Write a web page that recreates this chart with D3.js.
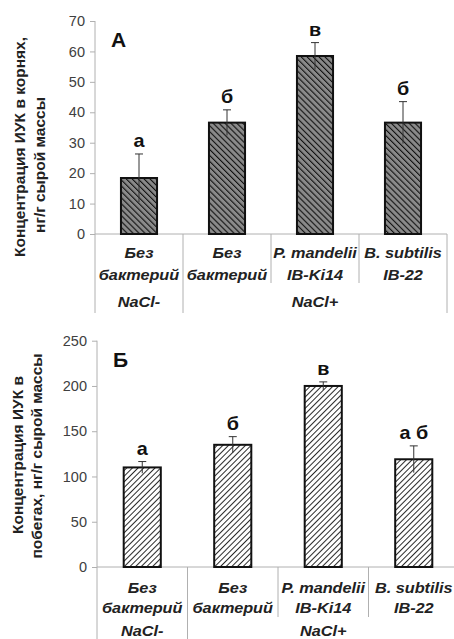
<!DOCTYPE html>
<html>
<head>
<meta charset="utf-8">
<script src="https://cdn.jsdelivr.net/npm/d3@7"></script>
<style>
  body { margin: 0; background: #fff; }
  text { font-family: "Liberation Sans", Arial, sans-serif; }
</style>
</head>
<body>
<div id="chart"></div>
<script>
// categories (two lines each) and groups
const categories = ["c1", "c2", "c3", "c4"];
const catLine1 = ["Без", "Без", "P. mandelii", "B. subtilis"];
const catLine2 = ["бактерий", "бактерий", "IB-Ki14", "IB-22"];
const groups = [{name: "NaCl-", from: 0, to: 0}, {name: "NaCl+", from: 1, to: 3}];

// panel A: roots
const rootMeans = [18.4, 36.6, 58.5, 36.6];
const rootErrs = [7.9, 4.2, 4.4, 6.9];
const rootLetters = ["а", "б", "в", "б"];
const rootTicks = [0, 10, 20, 30, 40, 50, 60, 70];

// panel Б: shoots
const shootMeans = [110, 135, 200, 119];
const shootErrs = [6.5, 9, 4.5, 14.8];
const shootLetters = ["а", "б", "в", "а б"];
const shootTicks = [0, 50, 100, 150, 200, 250];

const svg = d3.select("#chart").append("svg")
    .attr("width", 454)
    .attr("height", 639);

const defs = svg.append("defs");

// dark hatching for panel A
const pA = defs.append("pattern")
    .attr("id", "hatchA")
    .attr("patternUnits", "userSpaceOnUse")
    .attr("width", 4.2).attr("height", 4.2)
    .attr("patternTransform", "rotate(-45)");
pA.append("rect").attr("width", 4.2).attr("height", 4.2).attr("fill", "#8a8a8a");
pA.append("line").attr("x1", 0).attr("y1", 0).attr("x2", 0).attr("y2", 4.2)
    .attr("stroke", "#111").attr("stroke-width", 2.2);

// light hatching for panel Б
const pB = defs.append("pattern")
    .attr("id", "hatchB")
    .attr("patternUnits", "userSpaceOnUse")
    .attr("width", 4).attr("height", 4)
    .attr("patternTransform", "rotate(45)");
pB.append("rect").attr("width", 4).attr("height", 4).attr("fill", "#fff");
pB.append("line").attr("x1", 0).attr("y1", 0).attr("x2", 0).attr("y2", 4)
    .attr("stroke", "#111").attr("stroke-width", 1.8);

// text is a bit wider than normal in the original
const stretch = 1.05;

function drawPanel(opt) {
    const g = svg.append("g");

    const y = d3.scaleLinear().domain(opt.domain).range([opt.y0, opt.y1]);
    const xCat = d3.scaleBand().domain(categories).range([opt.x0, opt.x1]);
    const x = d3.scaleBand().domain(categories).range([opt.x0, opt.x1])
        .paddingInner(0.59).paddingOuter(0.295);

    // y axis
    const yAxis = g.append("g")
        .attr("transform", "translate(" + opt.x0 + ",0)")
        .call(d3.axisLeft(y).tickValues(opt.ticks).tickSize(5).tickPadding(5));
    yAxis.select(".domain").remove();
    yAxis.selectAll(".tick line").attr("stroke", "#b0b0b0");
    yAxis.selectAll(".tick text")
        .attr("fill", "#404040")
        .style("font-size", "14.5px")
        .style("font-family", "'Liberation Sans', Arial, sans-serif");

    // vertical axis line (extends down through category area)
    g.append("line")
        .attr("x1", opt.x0).attr("x2", opt.x0)
        .attr("y1", y(opt.domain[1])).attr("y2", opt.sepLong)
        .attr("stroke", "#b0b0b0");

    // horizontal axis line
    g.append("line")
        .attr("x1", opt.x0).attr("x2", opt.x1)
        .attr("y1", opt.y0).attr("y2", opt.y0)
        .attr("stroke", "#b0b0b0");

    // separators between categories
    const groupEdges = new Set();
    groups.forEach(gr => { groupEdges.add(gr.from); groupEdges.add(gr.to + 1); });
    for (let i = 1; i <= categories.length; i++) {
        const xe = i < categories.length ? xCat(categories[i]) : opt.x1;
        g.append("line")
            .attr("x1", xe).attr("x2", xe)
            .attr("y1", opt.y0)
            .attr("y2", groupEdges.has(i) ? opt.sepLong : opt.sepShort)
            .attr("stroke", "#b0b0b0");
    }

    // bars
    g.selectAll(".bar")
        .data(opt.means)
        .enter().append("rect")
        .attr("x", (d, i) => x(categories[i]))
        .attr("y", d => y(d))
        .attr("width", x.bandwidth())
        .attr("height", d => opt.y0 - y(d))
        .attr("fill", opt.fill)
        .attr("stroke", "#111")
        .attr("stroke-width", 2);

    // error bars
    const cx = i => x(categories[i]) + x.bandwidth() / 2;
    g.selectAll(".err")
        .data(opt.means)
        .enter().append("line")
        .attr("x1", (d, i) => cx(i)).attr("x2", (d, i) => cx(i))
        .attr("y1", (d, i) => y(d - opt.errs[i]))
        .attr("y2", (d, i) => y(d + opt.errs[i]))
        .attr("stroke", "#333").attr("stroke-width", 1);
    g.selectAll(".cap")
        .data(opt.means)
        .enter().append("line")
        .attr("x1", (d, i) => cx(i) - 4).attr("x2", (d, i) => cx(i) + 4)
        .attr("y1", (d, i) => y(d + opt.errs[i]))
        .attr("y2", (d, i) => y(d + opt.errs[i]))
        .attr("stroke", "#333").attr("stroke-width", 1);

    // significance letters
    g.selectAll(".letter")
        .data(opt.letters)
        .enter().append("text")
        .attr("transform", (d, i) => "translate(" + cx(i) + "," +
            (y(opt.means[i] + opt.errs[i]) - 7) + ") scale(1.1,1)")
        .attr("text-anchor", "middle")
        .style("font-size", "18px")
        .style("font-weight", "bold")
        .attr("fill", "#111")
        .text(d => d);

    // panel label
    g.append("text")
        .attr("x", opt.x0 + 16)
        .attr("y", opt.panelY)
        .style("font-size", "21px")
        .style("font-weight", "bold")
        .attr("fill", "#111")
        .text(opt.panel);

    // category labels
    const catText = (arr, yy) => g.selectAll(null)
        .data(arr)
        .enter().append("text")
        .attr("transform", (d, i) => "translate(" +
            (xCat(categories[i]) + xCat.bandwidth() / 2) + "," + yy + ") scale(" + stretch + ",1)")
        .attr("text-anchor", "middle")
        .style("font-size", "15.5px")
        .style("font-weight", "bold")
        .style("font-style", "italic")
        .attr("fill", "#222")
        .text(d => d);
    catText(catLine1, opt.line1Y);
    catText(catLine2, opt.line2Y);

    // group labels
    g.selectAll(null)
        .data(groups)
        .enter().append("text")
        .attr("transform", d => "translate(" + (xCat(categories[d.from]) +
            (d.to + 1 < categories.length ? xCat(categories[d.to + 1]) : opt.x1)) / 2 +
            "," + opt.groupY + ") scale(" + stretch + ",1)")
        .attr("text-anchor", "middle")
        .style("font-size", "15.5px")
        .style("font-weight", "bold")
        .style("font-style", "italic")
        .attr("fill", "#222")
        .text(d => d.name);

    // y title
    opt.title.forEach((t, i) => {
        g.append("text")
            .attr("transform", "translate(" + opt.titleX[i] + "," + opt.titleY[i] + ") rotate(-90)")
            .attr("text-anchor", "middle")
            .attr("dy", "0.35em")
            .style("font-size", "15.5px")
            .style("font-weight", "bold")
            .attr("fill", "#222")
            .text(t);
    });
}

drawPanel({
    domain: [0, 70], ticks: rootTicks,
    y0: 234, y1: 21, x0: 95, x1: 447,
    means: rootMeans, errs: rootErrs, letters: rootLetters,
    fill: "url(#hatchA)", panel: "А", panelY: 47,
    line1Y: 258, line2Y: 280, groupY: 307,
    sepShort: 283, sepLong: 313,
    title: ["Концентрация ИУК в корнях,", "нг/г сырой массы"],
    titleX: [20, 40], titleY: [147, 165]
});

drawPanel({
    domain: [0, 250], ticks: shootTicks,
    y0: 567, y1: 340.7, x0: 97, x1: 459,
    means: shootMeans, errs: shootErrs, letters: shootLetters,
    fill: "url(#hatchB)", panel: "Б", panelY: 367,
    line1Y: 593, line2Y: 613, groupY: 636,
    sepShort: 617, sepLong: 639,
    title: ["Концентрация ИУК в", "побегах, нг/г сырой массы"],
    titleX: [18, 37], titleY: [455, 456]
});
</script>
</body>
</html>
